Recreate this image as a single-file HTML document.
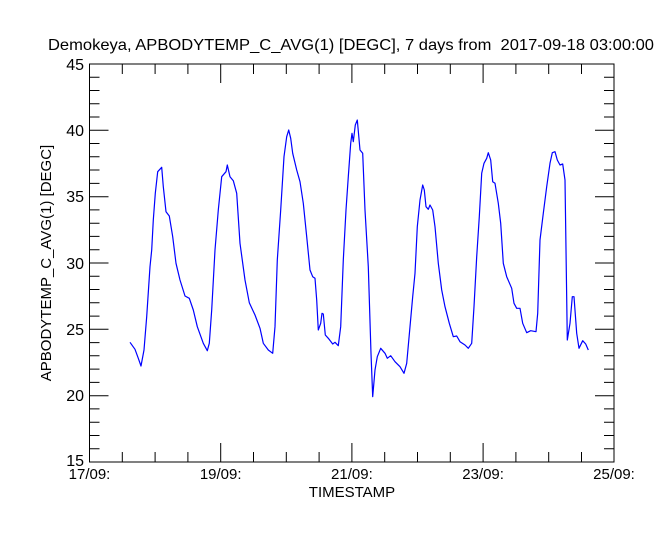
<!DOCTYPE html>
<html><head><meta charset="utf-8"><style>
html,body{margin:0;padding:0;background:#fff;}
svg{display:block;}
text{font-family:"Liberation Sans",sans-serif;fill:#000;}
</style></head><body>
<svg width="666" height="533" viewBox="0 0 666 533" xmlns="http://www.w3.org/2000/svg">
<text x="48" y="50" font-size="16" textLength="606" lengthAdjust="spacingAndGlyphs" xml:space="preserve">Demokeya, APBODYTEMP_C_AVG(1) [DEGC], 7 days from  2017-09-18 03:00:00</text>
<g stroke="#000" stroke-width="1" fill="none">
<rect x="89.5" y="64" width="524.5" height="398"/>
<path d="
M89.5 130.3h19M89.5 196.7h19M89.5 263h19M89.5 329.3h19M89.5 395.7h19
M614 130.3h-19M614 196.7h-19M614 263h-19M614 329.3h-19M614 395.7h-19
M89.5 77.3h10M89.5 90.5h10M89.5 103.8h10M89.5 117h10
M89.5 143.5h10M89.5 156.8h10M89.5 170h10M89.5 183.4h10
M89.5 209.9h10M89.5 223.2h10M89.5 236.4h10M89.5 249.7h10
M89.5 276.3h10M89.5 289.5h10M89.5 302.8h10M89.5 316.1h10
M89.5 342.6h10M89.5 355.8h10M89.5 369.1h10M89.5 382.4h10
M89.5 408.9h10M89.5 422.2h10M89.5 435.5h10M89.5 448.7h10
M614 77.3h-10M614 90.5h-10M614 103.8h-10M614 117h-10
M614 143.5h-10M614 156.8h-10M614 170h-10M614 183.4h-10
M614 209.9h-10M614 223.2h-10M614 236.4h-10M614 249.7h-10
M614 276.3h-10M614 289.5h-10M614 302.8h-10M614 316.1h-10
M614 342.6h-10M614 355.8h-10M614 369.1h-10M614 382.4h-10
M614 408.9h-10M614 422.2h-10M614 435.5h-10M614 448.7h-10
M220.7 462v-19M351.9 462v-19M483.1 462v-19
M220.7 64v19M351.9 64v19M483.1 64v19
M122.3 462v-10M155.1 462v-10M187.9 462v-10M253.5 462v-10M286.3 462v-10M319.1 462v-10
M384.7 462v-10M417.5 462v-10M450.3 462v-10M515.9 462v-10M548.7 462v-10M581.5 462v-10
M122.3 64v10M155.1 64v10M187.9 64v10M253.5 64v10M286.3 64v10M319.1 64v10
M384.7 64v10M417.5 64v10M450.3 64v10M515.9 64v10M548.7 64v10M581.5 64v10"/>
</g>
<g font-size="16" text-anchor="end">
<text x="84" y="70">45</text>
<text x="84" y="136">40</text>
<text x="84" y="202">35</text>
<text x="84" y="269">30</text>
<text x="84" y="335">25</text>
<text x="84" y="401">20</text>
<text x="84" y="466">15</text>
</g>
<g font-size="15" text-anchor="middle">
<text x="89.5" y="479">17/09:</text>
<text x="220.7" y="479">19/09:</text>
<text x="351.9" y="479">21/09:</text>
<text x="483.1" y="479">23/09:</text>
<text x="614" y="479">25/09:</text>
<text x="352" y="497">TIMESTAMP</text>
</g>
<text transform="translate(51,263) rotate(-90)" font-size="15" text-anchor="middle">APBODYTEMP_C_AVG(1) [DEGC]</text>
<polyline fill="none" stroke="#0000ff" stroke-width="1.2" stroke-linejoin="round" points="
130,342.3 135,349.3 138.3,358.3 141,366 144,350 146.7,316.7 150,266.7 151.7,250 153.3,220 155.3,193.3 157.7,171.7 161.7,167.3 163.3,186.7 166,211.7 169.3,216 172.7,236.7 176,263.3 180,280 185,296 189.3,298.3 193.3,310 197.3,326.7 203.3,343.3 207.3,350.7 209.3,343.3 211.7,310 215,250 218.3,210 221.7,176.7 226,171.7 227.3,165 230,176.7 233.3,180.7 236.7,193.3 240,243.3 245,280 249.3,302.7 255,315 260,328.3 263.3,343.3 268.3,350 272.7,353.3 275,326.7 277.3,260 280.7,210 284,156.7 286.7,136.7 288.7,130 290.7,138.3 292.7,153.3 296.7,170 300,181.7 303.3,203.3 306.7,236.7 310,270 312.7,276.7 315,278.3 316.7,300 318.3,330 320.7,323.3 322,313.3 323.3,314 325.3,335 328.3,338.3 332.7,344 335,342.3 338.3,345.7 340.7,326.7 343.3,260 346,210 348.3,176.7 350.7,143.3 352,133.3 353.3,141.7 355.3,125 357.3,120 360,150 362.7,153.3 365,210 368.3,266.7 371,353.3 372.7,396.7 375,370 377.3,356.7 380.7,348.3 385,353.3 387.3,358.3 390.7,355.7 395,361.7 400,366.7 404,373.3 406.7,363.3 410,326.7 412.7,296.7 415,273.3 417.3,226.7 420,200 422.7,185 424.3,190 426,206.7 428.3,209.3 430,205 432.7,210 435,226.7 438.3,263.3 441.7,290 445,306.7 449.3,323.3 453.3,336.7 456.7,336 460,341.7 465,345 468.3,348.3 471.7,343.3 474,306.7 476.7,256.7 479.3,216.7 481.7,173.3 484,163.3 486.7,158.3 488.3,152.7 490.7,160 492.7,181.7 495,183.3 498.3,203.3 500.7,223.3 503.3,263.3 506.7,276.7 511.7,288.3 514,303.3 516.7,308.3 520,308.3 522.7,323.3 526.7,332.7 530.7,330.7 536,331.7 537.7,313.3 540,240 543.3,213.3 546.7,186.7 550,163.3 552.3,152.7 555,151.7 557.3,160 560,165 562.7,164 565,180 567.3,340 570,323.3 572.3,296.7 574,296.7 576.7,333.3 579,348.3 582.7,340.7 585.7,344 588.3,350"/>
</svg>
</body></html>
